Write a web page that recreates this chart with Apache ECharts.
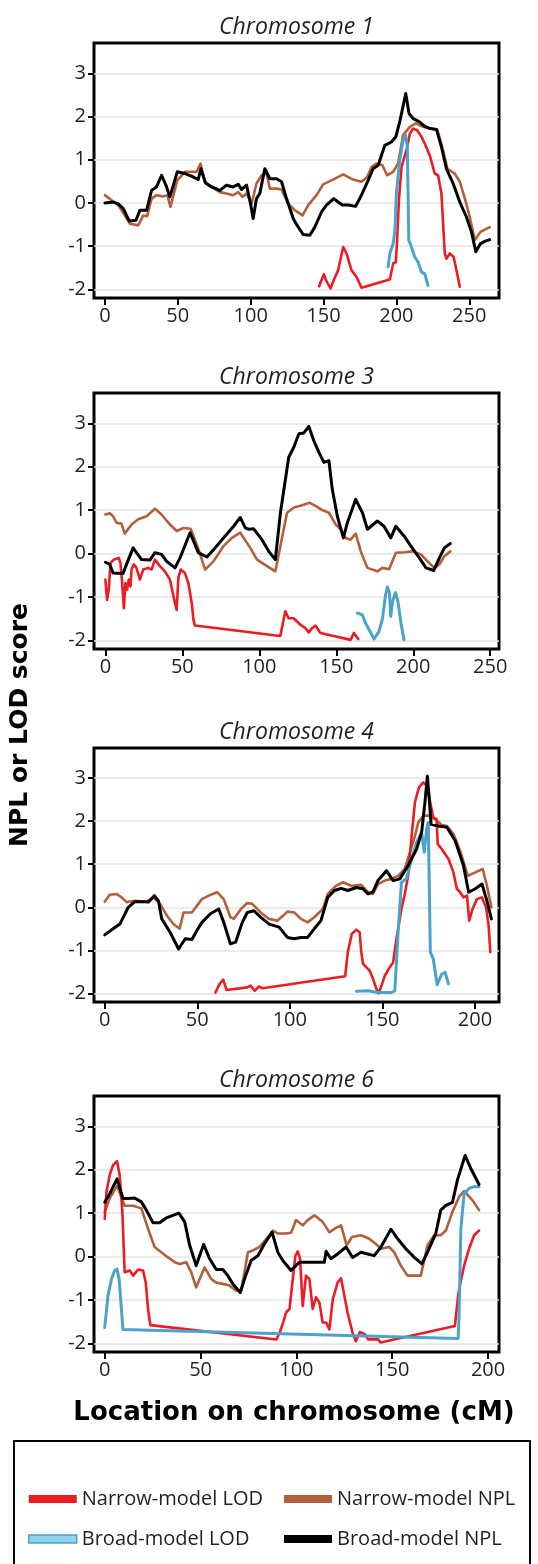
<!DOCTYPE html>
<html><head><meta charset="utf-8">
<script src="https://cdn.jsdelivr.net/npm/echarts@6/dist/echarts.min.js"></script>
<style>html,body{margin:0;padding:0;background:#fff}#c{width:538px;height:1564px}</style>
</head><body><div id="c"></div>
<script>
// ---------- tick labels / categories ----------
const panelTitles = ['Chromosome 1', 'Chromosome 3', 'Chromosome 4', 'Chromosome 6'];
const seriesNames = ['Narrow-model LOD', 'Narrow-model NPL', 'Broad-model LOD', 'Broad-model NPL'];
const yTicks = [-2, -1, 0, 1, 2, 3];
const xTicksChr1 = [0, 50, 100, 150, 200, 250];
const xTicksChr3 = [0, 50, 100, 150, 200, 250];
const xTicksChr4 = [0, 50, 100, 150, 200];
const xTicksChr6 = [0, 50, 100, 150, 200];

// ---------- Chromosome 1 ----------
const chr1NarrowLOD = [[147,-1.93],[150.2,-1.65],[152,-1.81],[154.8,-1.98],[157.7,-1.73],[160,-1.56],[163.5,-1.02],[165.8,-1.17],[169.2,-1.56],[172.6,-1.71],[176,-1.96],[195.5,-1.77],[197.8,-1.4],[199.6,-1.37],[200.5,-0.86],[201.8,0.1],[203.5,0.83],[206.9,1.22],[209.2,1.6],[211.5,1.72],[214.2,1.68],[217.2,1.53],[219.5,1.37],[222.9,1.1],[226.3,0.68],[228.6,0.64],[230.9,0.22],[233.2,-1.17],[234.3,-1.29],[236.6,-1.17],[239.3,-1.25],[241.2,-1.56],[243.5,-1.94]];
const chr1NarrowNPL = [[0,0.18],[4.6,0.06],[9.1,-0.05],[13,-0.25],[17.1,-0.48],[22.9,-0.52],[26.3,-0.29],[29,-0.31],[32,0.1],[35.4,0.18],[40,0.15],[42.8,0.18],[45,-0.09],[49.6,0.52],[54.9,0.72],[59.4,0.72],[62.9,0.72],[65.6,0.91],[68.6,0.49],[73.2,0.37],[78.9,0.25],[83.4,0.22],[88,0.18],[91.5,0.25],[94.4,0.14],[97.2,0.22],[100.6,-0.02],[104,0.45],[107.5,0.64],[110.9,0.68],[113.2,0.33],[117.7,0.33],[121.2,0.31],[125.7,-0.02],[130.3,-0.17],[135.6,-0.29],[139.5,-0.05],[145.2,0.18],[149.7,0.43],[155.5,0.52],[163.5,0.66],[170.3,0.54],[176,0.49],[179.9,0.6],[182.9,0.83],[186.3,0.91],[190.4,0.87],[193.6,0.64],[197.8,0.72],[201.2,0.91],[204.6,1.57],[209.2,1.76],[213.3,1.84],[218.3,1.76],[222.9,1.72],[228,1.7],[232,1.22],[235,0.79],[240,0.68],[243.5,0.49],[247,0.1],[250.3,-0.32],[253.8,-0.86],[257.7,-0.67],[264,-0.56]];
const chr1BroadLOD = [[194.3,-1.48],[195.5,-1.17],[197.8,-0.94],[199,-0.63],[200,0.22],[202.3,0.99],[204.6,1.45],[206.2,1.57],[207.5,1.3],[208.5,-0.86],[210.3,-1.02],[212.6,-1.25],[214.9,-1.37],[217.2,-1.6],[219.5,-1.64],[221.7,-1.91]];
const chr1BroadNPL = [[0,0],[5.7,0.02],[9.1,-0.02],[12.6,-0.13],[16.7,-0.42],[21.3,-0.4],[24,-0.17],[28.6,-0.17],[32,0.29],[35.4,0.37],[38.9,0.64],[42.3,0.37],[44.6,0.14],[49.6,0.72],[54.9,0.68],[59.4,0.62],[64,0.54],[65.8,0.79],[69,0.46],[73.2,0.37],[78.9,0.29],[83.4,0.41],[88,0.37],[91.5,0.43],[93.7,0.31],[97.2,0.41],[99.9,-0.02],[101.7,-0.36],[104,0.1],[106.3,0.22],[109.7,0.79],[113.2,0.56],[117.7,0.56],[121.2,0.49],[124.6,0.1],[129.2,-0.36],[131.9,-0.52],[136,-0.73],[140.6,-0.75],[144,-0.56],[148.6,-0.21],[152,-0.05],[157,0.1],[160,0.02],[163,-0.05],[167,-0.05],[172,-0.08],[176,0.18],[180.6,0.52],[184,0.79],[187.5,0.87],[192,1.33],[196.6,1.41],[199.6,1.53],[202.3,1.88],[204.2,2.18],[206.4,2.53],[208.7,2.07],[211.5,1.95],[215.6,1.88],[219.5,1.77],[223.4,1.72],[227.5,1.7],[230.9,1.3],[234.3,0.79],[238.9,0.45],[243.5,0.02],[248,-0.32],[251.5,-0.67],[254.5,-1.13],[257.7,-0.94],[260.6,-0.89],[264,-0.85]];

// ---------- Chromosome 3 ----------
const chr3NarrowLOD = [[0,-0.6],[1.1,-1.07],[2.2,-0.83],[3.3,-0.22],[4.3,-0.18],[5.4,-0.14],[7.2,-0.12],[8.7,-0.1],[9.8,-0.22],[10.9,-0.68],[12,-1.26],[13,-0.68],[14.1,-0.83],[15.2,-0.6],[16.3,-0.76],[17,-0.37],[18.5,-0.25],[20.2,-0.33],[22.4,-0.6],[24.6,-0.37],[27.8,-0.33],[30,-0.37],[32.2,-0.14],[35.4,-0.29],[38.7,-0.41],[41.9,-0.6],[45.2,-1.14],[46.3,-1.3],[47.4,-0.56],[48.9,-0.37],[51.7,-0.45],[53.9,-0.68],[56.1,-1.14],[57.2,-1.53],[58.2,-1.66],[113.6,-1.9],[116.9,-1.33],[119,-1.49],[122.3,-1.49],[126.7,-1.64],[129.9,-1.72],[132.1,-1.82],[134.3,-1.72],[136.4,-1.66],[139.7,-1.83],[159.3,-1.99],[161.4,-1.83],[164.3,-1.97]];
const chr3NarrowNPL = [[0,0.9],[2.8,0.93],[5,0.86],[7.2,0.71],[10.4,0.69],[12.6,0.46],[17,0.67],[21.3,0.79],[26.7,0.86],[32.2,1.03],[36.5,0.9],[40.9,0.71],[46.3,0.52],[50.7,0.59],[55.4,0.57],[59.8,0.17],[64.8,-0.37],[70.2,-0.18],[76.7,0.17],[82.2,0.36],[87.6,0.48],[94.1,0.13],[98.5,-0.14],[105,-0.29],[110.4,-0.41],[118,0.94],[122.4,1.06],[126.7,1.1],[132.8,1.17],[136.5,1.1],[140.9,1],[145.2,0.94],[149.6,0.67],[152.8,0.56],[156.1,0.36],[159.3,0.32],[162.6,0.46],[165.9,0.05],[170.2,-0.33],[176.7,-0.41],[180,-0.33],[184.3,-0.36],[188.7,0.02],[194.1,0.03],[199.6,0.05],[205,-0.02],[209.3,-0.18],[213.7,-0.33],[217,-0.25],[220.2,-0.06],[224.1,0.05]];
const chr3BroadLOD = [[163.6,-1.37],[166.9,-1.41],[169,-1.6],[174.5,-1.97],[177.7,-1.8],[180,-1.5],[182,-0.95],[183.3,-0.77],[184.5,-0.9],[185.4,-1.45],[186.5,-1.1],[188.5,-0.9],[190,-1.1],[192,-1.6],[194,-1.99]];
const chr3BroadNPL = [[0,-0.2],[2.8,-0.25],[5,-0.45],[11.5,-0.46],[13.7,-0.25],[18,0.13],[23.5,-0.14],[28.9,-0.15],[32.2,0.02],[36.5,-0.02],[39.8,-0.18],[45.2,-0.33],[48.5,-0.1],[55,0.48],[60.4,0.02],[65.9,-0.08],[71.3,0.13],[76.7,0.36],[83.3,0.63],[87.6,0.83],[90.9,0.59],[93,0.56],[96.3,0.57],[101.7,0.32],[106.1,0.05],[110.4,-0.14],[113.7,0.94],[119.1,2.22],[122.4,2.45],[125.7,2.76],[128.9,2.78],[132.2,2.93],[135.4,2.6],[138.7,2.33],[142,2.1],[145.2,2.14],[147.4,1.48],[150.7,0.86],[154.6,0.36],[157.2,0.71],[162.6,1.25],[167,0.94],[170.2,0.56],[176.7,0.75],[181,0.63],[185.4,0.36],[188.7,0.63],[194.1,0.4],[198.5,0.17],[203.9,-0.1],[208.3,-0.33],[213.3,-0.39],[217,-0.1],[220.2,0.13],[224.1,0.23]];

// ---------- Chromosome 4 ----------
const chr4NarrowLOD = [[59.8,-1.98],[62.1,-1.78],[64,-1.68],[65.8,-1.92],[77,-1.86],[78.8,-1.82],[81,-1.94],[83.3,-1.84],[85.2,-1.88],[129.9,-1.6],[131.3,-1.04],[133.5,-0.62],[135.9,-0.52],[137.7,-0.58],[138.6,-1.04],[139.5,-1.31],[141.3,-1.39],[143.1,-1.47],[144.9,-1.66],[146.7,-1.89],[148,-2],[149.5,-1.82],[151.3,-1.59],[154,-1.39],[155.8,-1.28],[157.6,-0.73],[160.3,-0.04],[162.1,0.31],[163.9,0.73],[165.8,1.66],[167.6,2.44],[169.7,2.78],[172.1,2.9],[173.9,2.82],[175.7,2.47],[177.5,2.09],[179.3,2.05],[179.9,1.47],[182.1,1.35],[185.7,1.12],[188.4,0.81],[190.2,0.43],[192,0.35],[193.8,0.23],[195.7,0.27],[196.9,-0.31],[198.7,-0.04],[201.1,0.19],[203.8,0.23],[206,0],[207.4,-0.43],[208.3,-1.04]];
const chr4NarrowNPL = [[0,0.13],[2.7,0.29],[6.3,0.31],[9.1,0.23],[11.8,0.12],[16.3,0.15],[22.6,0.13],[26.3,0.23],[29.9,0.08],[33.5,-0.19],[37.1,-0.39],[40.4,-0.5],[42.6,-0.12],[47.1,-0.12],[52.5,0.19],[56.2,0.27],[60.7,0.35],[64.3,0.19],[67.9,-0.23],[69.7,-0.27],[73.4,-0.05],[77,0.1],[79.7,0.08],[84.2,-0.12],[88.8,-0.27],[93.3,-0.31],[96,-0.21],[98.7,-0.1],[102.4,-0.12],[106,-0.27],[109.6,-0.35],[113.2,-0.23],[117.8,-0.04],[120.5,0.31],[125,0.5],[128.6,0.58],[133.2,0.5],[138.6,0.52],[142.2,0.35],[144.9,0.31],[147.6,0.54],[151.3,0.62],[154.9,0.66],[158.5,0.73],[162.1,0.89],[164.9,1.28],[167.6,1.66],[169.4,1.97],[172.1,2.13],[174.8,2.13],[178.4,2.05],[182.1,1.91],[184.8,1.89],[188.4,1.7],[192,1.31],[196.2,0.73],[200.2,0.81],[204.2,0.89],[206.5,0.5],[208.9,0]];
const chr4BroadLOD = [[135.9,-1.95],[142.2,-1.94],[147.6,-1.98],[154.9,-1.98],[156.7,-1.94],[158.5,-0.58],[160.3,0.58],[163,0.67],[165.8,1.12],[168.5,1.51],[171.2,1.74],[172.6,1.28],[173.9,1.82],[174.8,1.97],[175.9,-1.04],[177.5,-1.2],[179.6,-1.8],[182.1,-1.55],[183.9,-1.51],[185.7,-1.78]];
const chr4BroadNPL = [[0,-0.64],[4.5,-0.5],[8.2,-0.39],[12.7,0],[16.3,0.13],[21.7,0.13],[23.6,0.12],[26.8,0.27],[29,0.15],[30.8,-0.27],[35.3,-0.58],[39.9,-0.97],[43.5,-0.73],[47.1,-0.75],[49.8,-0.54],[52.5,-0.35],[57.1,-0.15],[61.6,-0.04],[64.3,-0.35],[67.9,-0.85],[70.7,-0.81],[74.3,-0.35],[77,-0.12],[80.6,-0.08],[84.2,-0.23],[88.8,-0.39],[94.2,-0.46],[98.7,-0.7],[102.4,-0.73],[106,-0.7],[109.6,-0.7],[113.2,-0.5],[116.8,-0.31],[120.5,0.23],[124.1,0.39],[127.7,0.44],[131.3,0.39],[135.9,0.46],[139.5,0.43],[142.2,0.31],[144.9,0.36],[147.6,0.62],[152.2,0.85],[155.8,0.62],[159.4,0.66],[163.9,0.97],[168.5,1.35],[171.2,1.74],[173,2.44],[174.3,3.05],[175.2,2.59],[176.3,1.93],[180.3,1.89],[184.8,1.86],[189.3,1.55],[193.8,0.97],[196.6,0.35],[200.2,0.43],[203.8,0.54],[206.5,0.15],[208.9,-0.27]];

// ---------- Chromosome 6 ----------
const chr6NarrowLOD = [[0,0.87],[0.9,1.49],[2.6,1.88],[4.3,2.1],[6.4,2.2],[7.8,1.88],[9.2,1.03],[10.4,-0.36],[13,-0.32],[14.8,-0.44],[17.4,-0.3],[20,-0.32],[21.4,-0.6],[22.6,-1.21],[23.8,-1.58],[89.6,-1.91],[91.3,-1.75],[93.1,-1.52],[94.6,-1.29],[96.4,-1.21],[98.1,-0.52],[99.5,0.02],[100.7,0.12],[101.9,-0.05],[103.3,-1.14],[105,-0.44],[106.8,-0.52],[108.5,-1.21],[110.2,-0.94],[112,-1.06],[113.7,-1.52],[115.5,-1.52],[117.2,-1.68],[119,-0.98],[121.5,-0.6],[123.3,-0.5],[125,-0.9],[126.7,-1.29],[129.3,-1.76],[131,-1.95],[133.1,-1.74],[135.7,-1.79],[137.4,-1.91],[142.6,-1.91],[143.9,-1.98],[182.7,-1.6],[184.5,-0.85],[186,-0.52],[187.5,-0.21],[190.1,0.18],[192.7,0.49],[195.3,0.6]];
const chr6NarrowNPL = [[0,1.03],[2.6,1.34],[6.4,1.63],[10.4,1.17],[14.8,1.17],[19.1,1.11],[22.6,0.64],[26,0.22],[29.5,0.1],[33,-0.02],[36.5,-0.13],[39.1,-0.17],[42.5,-0.13],[45.1,-0.36],[47.7,-0.71],[52.1,-0.25],[55.6,-0.52],[58.2,-0.6],[61.6,-0.63],[65.1,-0.67],[68.6,-0.79],[71.2,-0.79],[74.7,0.1],[77.3,0.14],[80.7,0.22],[85.1,0.45],[87.7,0.6],[90.3,0.53],[94.6,0.53],[97.2,0.55],[99.8,0.84],[103.3,0.72],[105.9,0.84],[109.4,0.95],[113.7,0.8],[117.2,0.56],[120.7,0.66],[123.3,0.72],[126.2,0.26],[129,0.45],[133.7,0.49],[138,0.41],[141.5,0.29],[144.1,0.18],[148.4,0.22],[151,0.1],[154.5,-0.21],[158,-0.44],[161.5,-0.44],[164.9,-0.44],[168.4,0.26],[171.9,0.49],[175.3,0.49],[178,0.6],[181.4,1.03],[184.9,1.38],[187.5,1.51],[191.8,1.3],[195.3,1.07]];
const chr6BroadLOD = [[0,-1.64],[1.7,-0.9],[3.5,-0.52],[5.2,-0.32],[6.4,-0.29],[7.5,-0.52],[8.7,-1.21],[9.5,-1.68],[184.4,-1.89],[184.9,-1.29],[185.8,0.64],[187.5,1.45],[190.1,1.57],[192.7,1.61],[195.3,1.61]];
const chr6BroadNPL = [[0,1.25],[2.6,1.45],[6.4,1.79],[9.5,1.34],[12.2,1.34],[15.6,1.35],[19.1,1.26],[21.7,1.07],[25.2,0.78],[28.6,0.78],[32.1,0.89],[35.6,0.95],[38.7,1],[41.7,0.8],[44.3,0.26],[47.7,-0.21],[49.5,0.02],[51.6,0.28],[54.7,-0.05],[58.2,-0.3],[61.6,-0.3],[64.2,-0.44],[66.8,-0.63],[70.7,-0.83],[72.9,-0.52],[76.4,-0.09],[79.9,0.02],[83.3,0.29],[87.3,0.56],[90.3,0.1],[92.9,-0.09],[97.2,-0.32],[101.6,-0.13],[105.9,-0.13],[110.2,-0.13],[114.6,-0.13],[115.5,0.12],[118,-0.05],[121.5,0.06],[125.9,0.22],[129.3,-0.02],[133.7,0.1],[137.2,0.06],[140.6,0.02],[144.1,0.22],[149.3,0.63],[152.8,0.41],[157.1,0.18],[161.5,-0.02],[165.5,-0.17],[168.4,0.1],[172.7,0.53],[175.3,1.07],[178,1.18],[181.4,1.25],[184,1.76],[188,2.33],[191,2.03],[195.3,1.66]];

// ---------- layout & style (not data) ----------
const FONT = '"Open Sans", "Noto Sans", sans-serif';
const TXT = '#231f20';
const COLORS = { nl: '#ed1c24', nn: '#b35f3b', bl: '#4ba3cc', bn: '#000000' };
const layout = [
  { top: 43,   height: 255, xmin: -7.5, xmax: 270.4, ticks: xTicksChr1 },
  { top: 393,  height: 256, xmin: -7.4, xmax: 255.7, ticks: xTicksChr3 },
  { top: 748,  height: 254, xmin: -5.8, xmax: 213,   ticks: xTicksChr4 },
  { top: 1096, height: 256, xmin: -5.6, xmax: 205.7, ticks: xTicksChr6 }
];
const panelData = [
  [chr1NarrowLOD, chr1NarrowNPL, chr1BroadLOD, chr1BroadNPL],
  [chr3NarrowLOD, chr3NarrowNPL, chr3BroadLOD, chr3BroadNPL],
  [chr4NarrowLOD, chr4NarrowNPL, chr4BroadLOD, chr4BroadNPL],
  [chr6NarrowLOD, chr6NarrowNPL, chr6BroadLOD, chr6BroadNPL]
];
const GRID_LEFT = 94, GRID_RIGHT = 39;
const gridCenterX = GRID_LEFT + (538 - GRID_LEFT - GRID_RIGHT) / 2;

const grids = [], xAxes = [], yAxes = [], series = [], graphics = [];
layout.forEach((p, i) => {
  grids.push({ left: GRID_LEFT, right: GRID_RIGHT, top: p.top, height: p.height,
    show: true, borderColor: '#000', borderWidth: 3, backgroundColor: 'transparent',
    containLabel: false, outerBoundsMode: 'none' });
  xAxes.push({ type: 'value', gridIndex: i, min: p.xmin, max: p.xmax, position: 'bottom',
    axisLine: { show: false, onZero: false },
    axisTick: { show: true, inside: false, length: 7, customValues: p.ticks, lineStyle: { color: '#000', width: 2 } },
    axisLabel: { customValues: p.ticks, fontSize: 20, color: TXT, fontFamily: FONT, margin: 8 },
    splitLine: { show: false } });
  yAxes.push({ type: 'value', gridIndex: i, min: -2.2, max: 3.7, position: 'left',
    axisLine: { show: false, onZero: false },
    axisTick: { show: true, inside: false, length: 6, customValues: yTicks, lineStyle: { color: '#000', width: 2 } },
    axisLabel: { customValues: yTicks, fontSize: 20, color: TXT, fontFamily: FONT, margin: 8 },
    splitLine: { show: true, lineStyle: { color: '#e4e4e4', width: 1.5 } } });
  const d = panelData[i];
  const order = [[1, 'nn', 2.6], [0, 'nl', 2.6], [2, 'bl', 3], [3, 'bn', 3]];
  order.forEach(([k, c, w]) => {
    series.push({ type: 'line', name: seriesNames[k], xAxisIndex: i, yAxisIndex: i,
      data: d[k], symbol: 'none', showSymbol: false, smooth: false, animation: false,
      lineStyle: { color: COLORS[c], width: w, join: 'round', cap: 'round' },
      itemStyle: { color: COLORS[c] } });
  });
  graphics.push({ type: 'text', x: gridCenterX, y: p.top - 16,
    style: { text: panelTitles[i], font: 'italic 23px "Open Sans", sans-serif', fill: TXT,
      align: 'center', verticalAlign: 'middle', textAlign: 'center', textVerticalAlign: 'middle' } });
});

graphics.push({ type: 'text', x: 20, y: 725, rotation: Math.PI / 2,
  style: { text: 'NPL or LOD score', font: 'bold 25px "DejaVu Sans", sans-serif', fill: '#000',
    align: 'center', verticalAlign: 'middle', textAlign: 'center', textVerticalAlign: 'middle' } });
graphics.push({ type: 'text', x: 294, y: 1413,
  style: { text: 'Location on chromosome (cM)', font: 'bold 26px "DejaVu Sans", sans-serif', fill: '#000',
    align: 'center', verticalAlign: 'middle', textAlign: 'center', textVerticalAlign: 'middle' } });
graphics.push({ type: 'rect', shape: { x: 14, y: 1441, width: 516, height: 160 },
  style: { fill: 'none', stroke: '#000', lineWidth: 2 } });

const legendCommon = { orient: 'vertical', icon: 'rect', itemWidth: 48, itemHeight: 8, itemGap: 20,
  selectedMode: false, textStyle: { fontSize: 20, color: TXT, fontFamily: FONT } };
const legends = [
  Object.assign({}, legendCommon, { left: 23, top: 1484, data: [
    { name: seriesNames[0], itemStyle: { color: COLORS.nl } },
    { name: seriesNames[2], itemStyle: { color: '#93d2ec', borderColor: '#4a9fca', borderWidth: 1.5 } } ] }),
  Object.assign({}, legendCommon, { left: 279, top: 1484, data: [
    { name: seriesNames[1], itemStyle: { color: COLORS.nn } },
    { name: seriesNames[3], itemStyle: { color: COLORS.bn } } ] })
];

const chart = echarts.init(document.getElementById('c'), null, { renderer: 'canvas' });
chart.setOption({ animation: false, backgroundColor: '#fff', grid: grids, xAxis: xAxes, yAxis: yAxes,
  series: series, legend: legends, graphic: graphics });
</script></body></html>
